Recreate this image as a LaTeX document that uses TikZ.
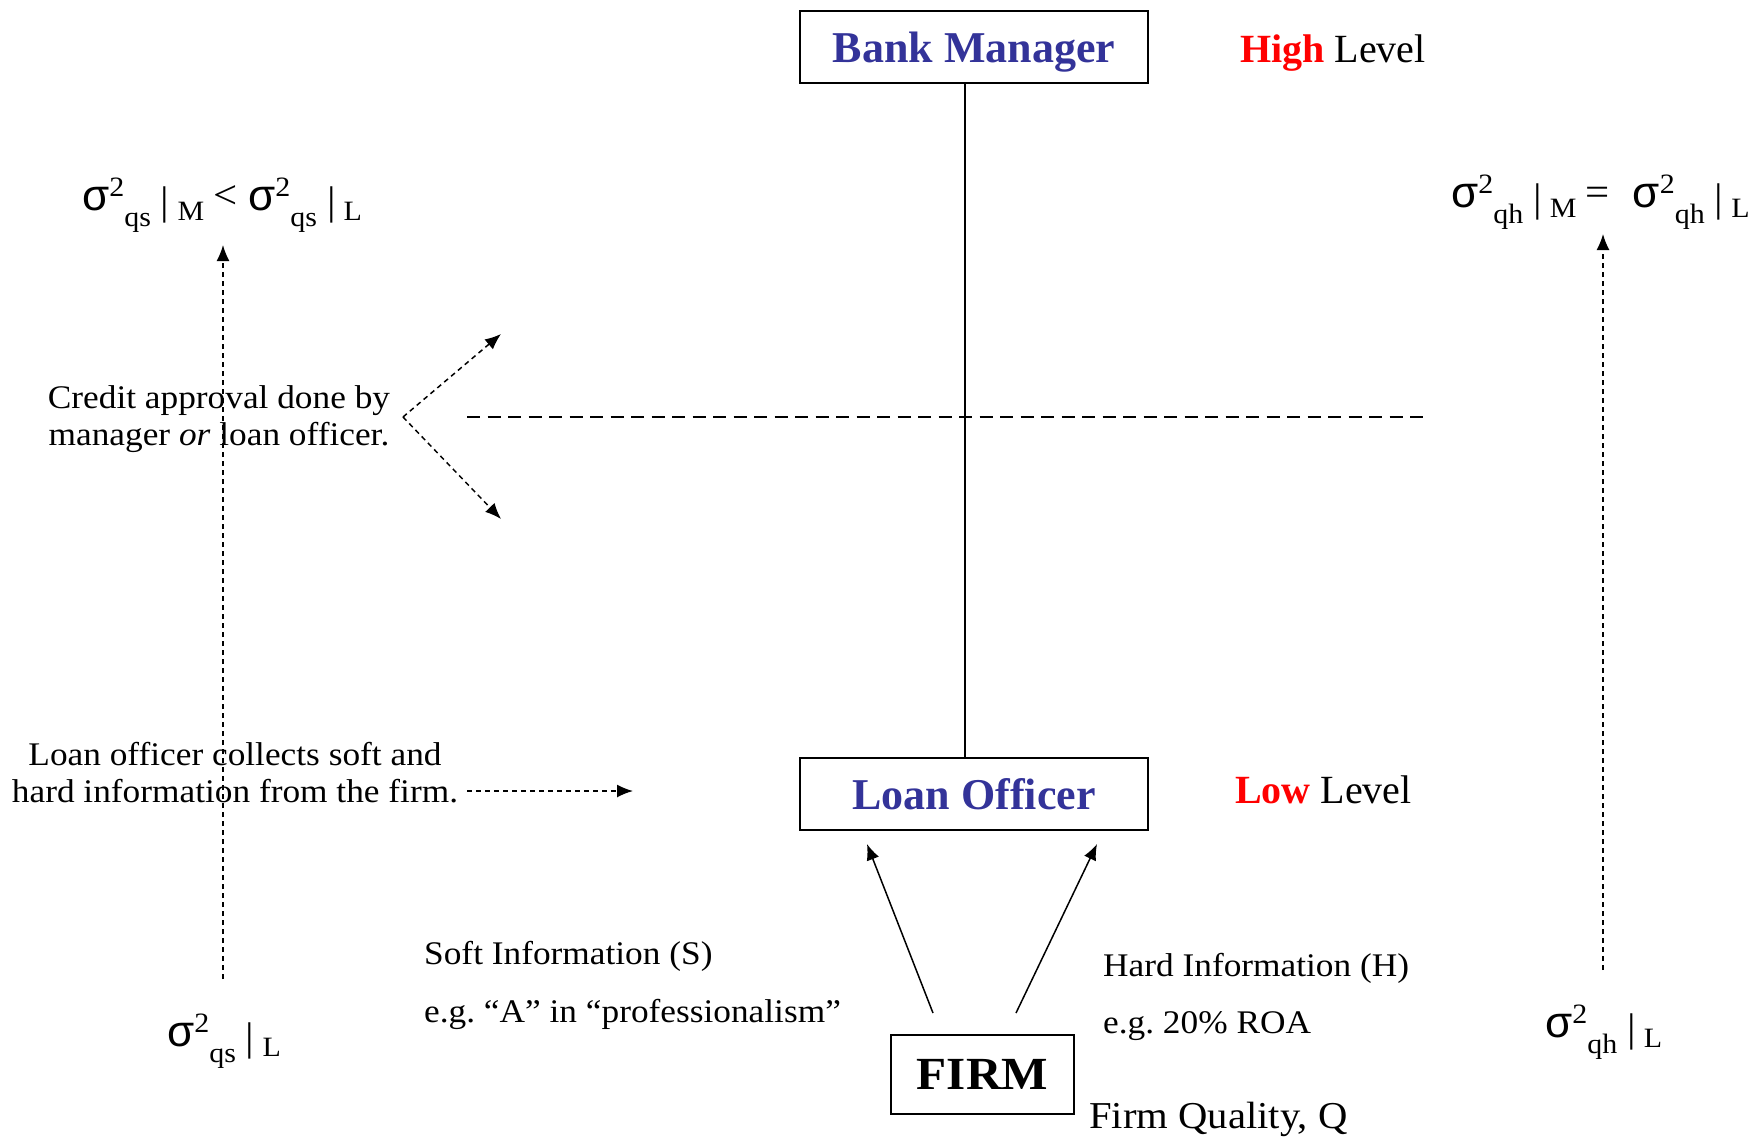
\documentclass[tikz,border=0pt]{standalone}
\usepackage{fontspec}
\setmainfont{Liberation Serif}[FakeStretch=1.07]
\newfontfamily\tmsfont{Liberation Serif}
\newfontfamily\sgfont{Liberation Sans}
\usetikzlibrary{arrows.meta}
\definecolor{boxblue}{RGB}{51,51,153}
\frenchspacing
\newcommand\fs[1]{\fontsize{#1}{#1}\selectfont}
\newcommand\sq[1]{{\sgfont\fs{44}σ}\raisebox{14pt}{\fs{28}2}\raisebox{-16pt}{\fs{28}#1}}
\newcommand\cnd[1]{\hspace{10pt}\raisebox{-4pt}{\fs{40}|}\hspace{8pt}\raisebox{-10pt}{\fs{28}#1}}
\newcommand\rel[1]{\hspace{9pt}\raisebox{2pt}{\fs{40}#1}\hspace{11pt}}
\begin{document}
\begin{tikzpicture}[x=1pt,y=-1pt,
  lvlbox/.style={draw,line width=2pt,minimum width=348pt,minimum height=72pt,inner sep=0pt,text depth=0pt,text=boxblue,font=\tmsfont\bfseries\fs{44}},
  body/.style={inner sep=0pt,font=\fs{33}},
  lvl/.style={inner sep=0pt,anchor=west,font=\tmsfont\fs{40}},
  frm/.style={inner sep=0pt,anchor=base west},
  tip/.style={-{Latex[length=16pt,width=13pt]}},
  fine/.style={line width=1.5pt,dash pattern=on 5pt off 4pt},
  longdash/.style={line width=1.5pt,dash pattern=on 13pt off 7.5pt}]
\useasboundingbox (0,0) rectangle (1764,1136);

\node[lvlbox] (bm) at (974,47) {Bank Manager};
\node[lvlbox] (lo) at (974,794) {Loan Officer};
\node[draw,line width=2pt,minimum width=183pt,minimum height=79pt,inner sep=0pt,font=\bfseries\fs{46}] (firm) at (982.5,1074.5) {FIRM};

\node[lvl] (hi) at (1240,53) {\textcolor{red}{\bfseries High} Level};
\node[lvl] (low) at (1235,790) {\textcolor{red}{\bfseries Low} Level};

\coordinate (vt) at (965,83);
\coordinate (vb) at (965,758);
\draw[line width=1.5pt] (vt) -- (vb);

\coordinate (hl) at (467,417);
\coordinate (hr) at (1429,417);
\draw[longdash] (hl) -- (hr);

\node[body,align=center] (credit) at (219,419) {Credit approval done by\\[4pt]manager \textit{or} loan officer.};
\coordinate (cv) at (403,417);
\coordinate (cu) at (501,334);
\coordinate (cd) at (501,519);
\draw[fine,tip] (cv) -- (cu);
\draw[fine,tip] (cv) -- (cd);

\node[body,align=center] (collect) at (235,773) {Loan officer collects soft and\\[4pt]hard information from the firm.};
\coordinate (ca) at (467,791);
\coordinate (cb) at (633,791);
\draw[fine,tip] (ca) -- (cb);

\node[frm] (tl) at (82,210) {\sq{qs}\cnd{M}\rel{<}\sq{qs}\cnd{L}};
\node[frm] (tr) at (1451,207) {\sq{qh}\cnd{M}\rel{=}\hspace{12pt}\sq{qh}\cnd{L}};
\node[frm] (bl) at (167,1046) {\sq{qs}\cnd{L}};
\node[frm] (br) at (1545,1037) {\sq{qh}\cnd{L}};

\coordinate (la) at (223,979);
\coordinate (lb) at (223,245);
\draw[fine,tip] (la) -- (lb);
\coordinate (ra) at (1603,970);
\coordinate (rb) at (1603,234);
\draw[fine,tip] (ra) -- (rb);

\node[body,anchor=west] (soft) at (424,956) {Soft Information (S)};
\node[body,anchor=west] (softeg) at (424,1014) {e.g. “A” in “professionalism”};
\node[body,anchor=west] (hard) at (1103,968) {Hard Information (H)};
\node[body,anchor=west] (hardeg) at (1103,1026) {e.g. 20\% ROA};
\node[inner sep=0pt,anchor=west,font=\fs{38}] (fq) at (1089,1119) {Firm Quality, Q};

\coordinate (s1) at (933,1013);
\coordinate (s2) at (867,844);
\coordinate (h1) at (1016,1013);
\coordinate (h2) at (1097,844);
\draw[line width=1.5pt,tip] (s1) -- (s2);
\draw[line width=1.5pt,tip] (h1) -- (h2);
\end{tikzpicture}
\end{document}
